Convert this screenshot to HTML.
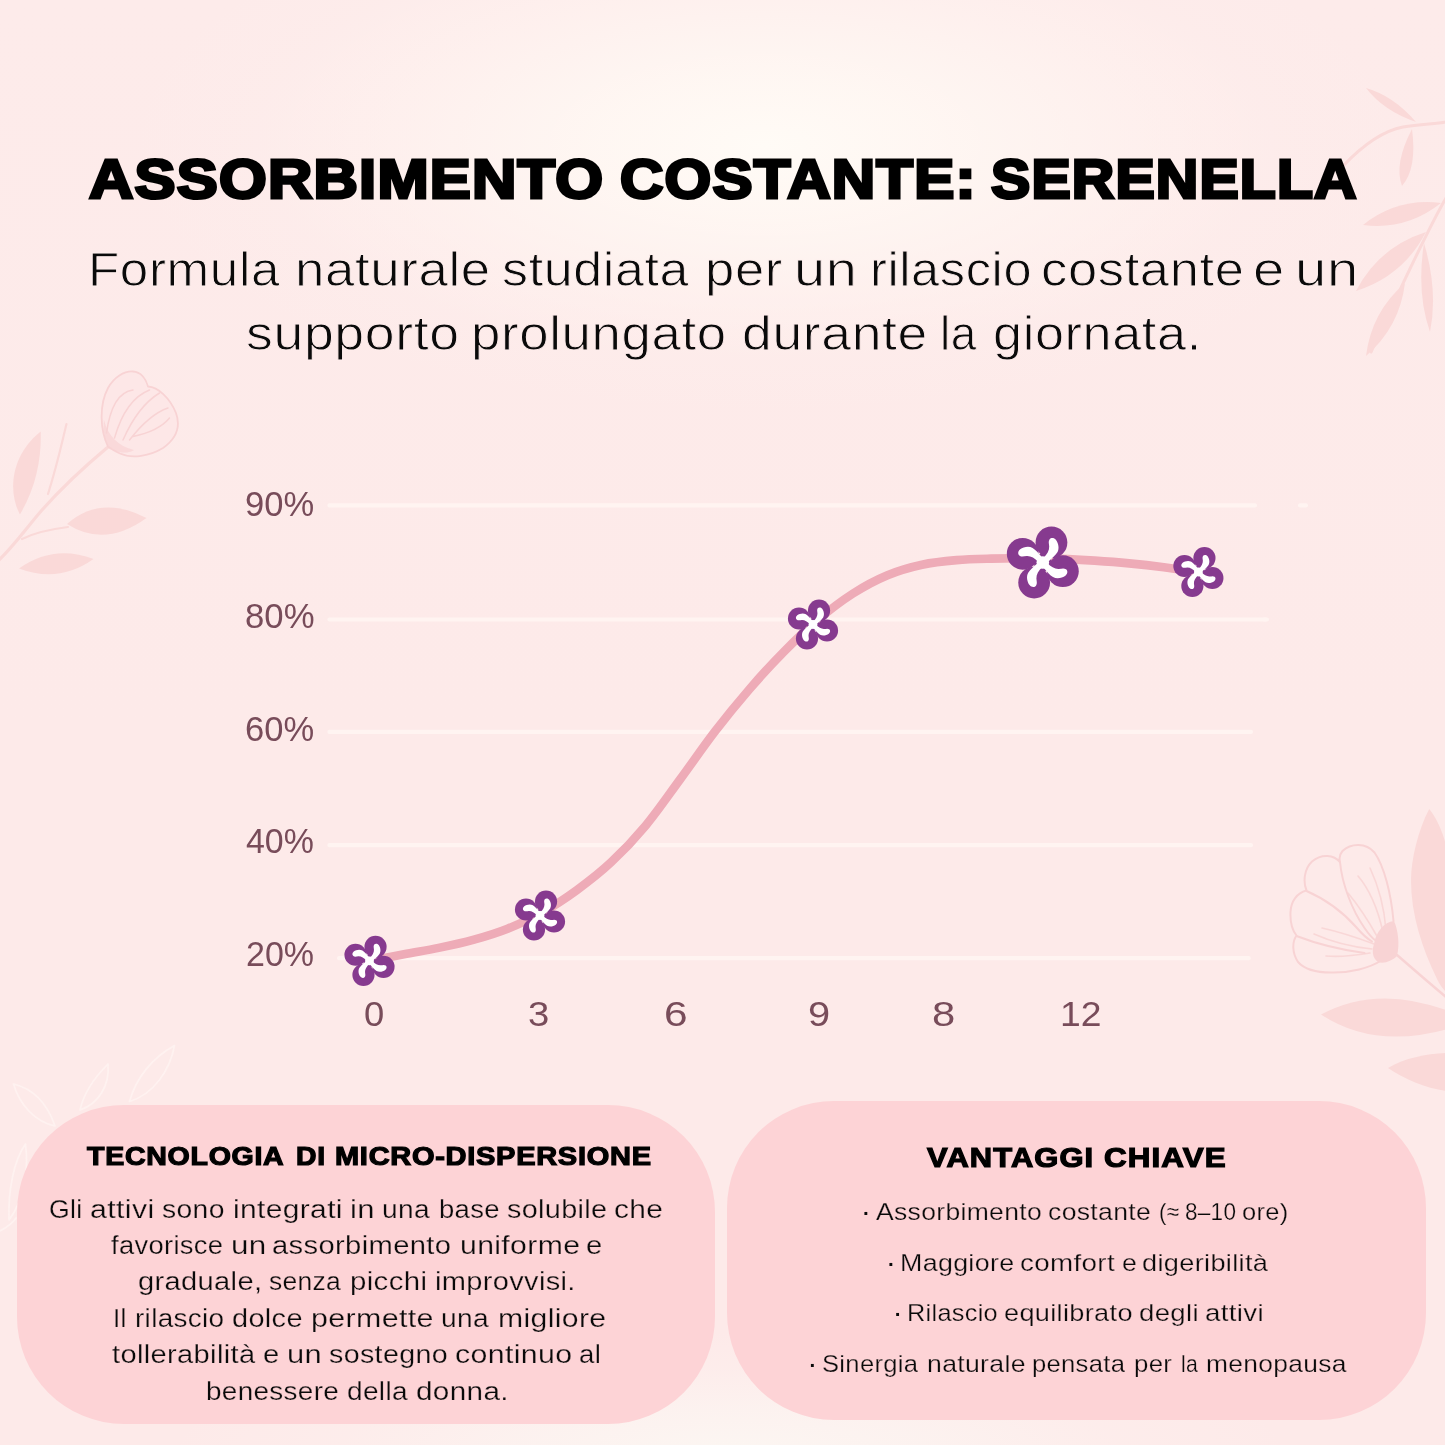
<!DOCTYPE html>
<html lang="it">
<head>
<meta charset="utf-8">
<title>Assorbimento costante: Serenella</title>
<style>
html,body{margin:0;padding:0;background:#fdeae9;}
body{width:1445px;height:1445px;position:relative;overflow:hidden;background:#fdeae9;font-family:"Liberation Sans",sans-serif;}
.bg{position:absolute;left:0;top:0;width:1445px;height:1445px;
 background:
  radial-gradient(ellipse 640px 270px at 765px 145px, rgba(255,251,246,1) 0%, rgba(255,249,244,0.85) 25%, rgba(255,246,242,0.5) 55%, rgba(255,240,238,0.18) 80%, rgba(254,234,234,0) 100%),
  radial-gradient(ellipse 560px 120px at 730px 1452px, rgba(252,246,242,1) 0%, rgba(252,244,241,0.8) 35%, rgba(253,240,238,0.4) 70%, rgba(254,234,234,0) 100%),
  linear-gradient(180deg,#fdebea 0%,#fdeae9 50%,#fdeae9 100%);}
svg.art{position:absolute;left:0;top:0;}
.card{position:absolute;background:#fdd3d6;border-radius:107px;}
.ln{height:0;}
.t{position:absolute;white-space:nowrap;line-height:0;height:0;transform-origin:0 0;}
</style>
</head>
<body>
<div class="bg"></div>
<svg class="art" width="1445" height="1445" viewBox="0 0 1445 1445">
<g style="filter:blur(.45px)">
<path d="M1343,166 C1362,146 1382,131 1403,127 C1420,124 1434,124 1446,122" fill="none" stroke="#fad9d8" stroke-width="3" stroke-linecap="round"/>
<path d="M1416.0,122.0 Q1393.6,95.9 1366.0,88.0 Q1383.4,110.7 1416.0,122.0Z" fill="#fad9d8"/>
<path d="M1412.0,129.0 Q1393.7,164.0 1402.0,186.0 Q1417.3,168.1 1412.0,129.0Z" fill="#fad9d8"/>
<path d="M1446,198 C1426,232 1400,290 1371,352" fill="none" stroke="#fad9d8" stroke-width="3" stroke-linecap="round"/>
<path d="M1441.0,203.0 Q1397.4,197.6 1363.0,225.0 Q1406.6,230.4 1441.0,203.0Z" fill="#fad9d8"/>
<path d="M1426.0,232.0 Q1378.8,247.0 1356.0,291.0 Q1403.2,276.0 1426.0,232.0Z" fill="#fad9d8"/>
<path d="M1424.0,243.0 Q1416.3,292.7 1430.0,332.0 Q1438.3,291.2 1424.0,243.0Z" fill="#fad9d8"/>
<path d="M1405.0,283.0 Q1371.4,312.0 1366.0,356.0 Q1399.6,327.0 1405.0,283.0Z" fill="#fad9d8"/>
</g>
<g style="filter:blur(.45px)">
<path d="M108,447 C90,462 66,483 42,510 C28,526 14,546 -2,561" fill="none" stroke="#fad9d8" stroke-width="3.2" stroke-linecap="round"/>
<path d="M66.5,424 C62,442 58,462 48,494" fill="none" stroke="#fad9d8" stroke-width="2.2" stroke-linecap="round"/>
<path d="M22,539 C36,532 52,529 68,527" fill="none" stroke="#fad9d8" stroke-width="2.2" stroke-linecap="round"/>
<path d="M19.9,514.5 C8,492 10,456 40.7,431.4 C41.5,456 37,486 19.9,514.5Z" fill="#fad9d8"/>
<path d="M67.0,524.0 Q104.8,548.2 146.5,518.0 Q100.7,494.4 67.0,524.0Z" fill="#fad9d8"/>
<path d="M19.0,568.5 Q58.8,583.6 93.5,559.0 Q53.7,543.9 19.0,568.5Z" fill="#fad9d8"/>
<path d="M108,446.5 C100,430 99,405 108,388 C114,377 124,371 133,371.5 C141,372 146,379 148,386.5 C158,387 170,398 176,413 C181,427 177,438 163,448 C150,456 132,459 120,453.5 C115,451 111,449 108,446.5Z" fill="#fde7e7" stroke="#f8d3d4" stroke-width="1.8" stroke-linejoin="round"/>
<path d="M106.5,433 C110,408 118,392 133,390 M114.5,438 C122,412 134,396 149.5,390 M123,440 C134,415 148,400 159.5,393 M129.5,440 C142,424 156,412 168,408 M133,436.5 C150,433 162,427 169.5,418" fill="none" stroke="#f8d3d4" stroke-width="1.5" stroke-linecap="round"/>
<path d="M108,446.5 C104,438 103,428 104,420 C108,436 118,446 134,450 C126,455 114,452 108,446.5Z" fill="#f8d3d4" opacity="0.7"/>
</g>
<g style="filter:blur(.45px)">
<path d="M1429.2,809 C1418,830 1411,860 1411,880 C1411,915 1422,948 1437,979 C1440,985 1443,989 1446,992 L1446,845 C1442,830 1436,817 1429.2,809Z" fill="#fad9d8"/>
<path d="M1321.0,1014.5 Q1382.8,1055.2 1472.0,1021.0 Q1386.1,979.3 1321.0,1014.5Z" fill="#fad9d8"/>
<path d="M1388,1068 C1405,1058 1425,1054 1446,1053 L1446,1091 C1425,1088 1404,1079 1388,1068Z" fill="#fad9d8"/>
<path d="M1397,955 C1412,968 1428,982 1446,997" fill="none" stroke="#f8d3d4" stroke-width="2.4" stroke-linecap="round"/>
<path d="M1393.5,921 C1391,893 1384,866 1374.5,852.5 C1366,842.5 1351,843 1342.5,851 C1339,855 1339.5,860 1340,862 C1334,855 1322,853 1312,861.5 C1304,869 1303,882 1306.5,890.5 C1297,893 1291,901 1290.5,912 C1290,922 1293,931 1296.5,935.5 C1292,942 1292,953 1298,962 C1305,970 1318,972.5 1331,972.5 C1350,973 1370,968 1382,960" fill="none" stroke="#f8d3d4" stroke-width="2" stroke-linejoin="round" stroke-linecap="round"/>
<path d="M1340,862 C1342,884 1352,910 1364.5,928 C1368,933 1372,938 1375,940 M1306.5,891 C1325,899 1343,912 1357,928 C1362,934 1368,939 1372,941.5 M1296.5,936 C1312,942 1335,949 1364.5,953" fill="none" stroke="#f8d3d4" stroke-width="2" stroke-linecap="round"/>
<path d="M1383,932 C1378,910 1370,890 1358,876 M1386,930 C1384,905 1378,885 1370,868 M1378,938 C1368,920 1358,905 1348,893 M1374,944 C1358,938 1340,932 1322,928 M1372,949 C1352,947 1332,942 1314,934 M1370,953 C1352,956 1336,957 1326,956" fill="none" stroke="#f8d3d4" stroke-width="1.6" stroke-linecap="round" opacity="0.85"/>
<path d="M1374,944 C1376,932 1384,922 1394,921 C1398,930 1400,944 1397,956 C1392,961 1384,964 1378,962 C1372,958 1372,950 1374,944Z" fill="#f8d3d4"/>
</g>
<g fill="none" stroke="#fff4f2" stroke-width="1.6" stroke-linecap="round" stroke-linejoin="round" opacity="0.85">
<path d="M13.5,1084 C30,1088 46,1100 55,1126 C36,1122 20,1106 13.5,1084Z"/>
<path d="M108,1064 C96,1076 84,1092 80,1110 C98,1104 110,1086 108,1064Z"/>
<path d="M174.5,1045.5 C152,1058 136,1078 129.5,1101.5 C154,1094 170,1070 174.5,1045.5Z"/>
<path d="M25.5,1144 C14,1160 8,1190 9,1220 C24,1200 29,1170 25.5,1144Z"/>
<path d="M-2,1232 C6,1228 12,1224 16,1218"/>
</g>
<rect x="327.4" y="503.2" width="929.6" height="4.2" rx="2" fill="#fff4f1"/><rect x="1298" y="503.2" width="10.0" height="4.2" rx="2" fill="#fff4f1"/><rect x="1262" y="617.4" width="7.0" height="4.2" rx="2" fill="#fff4f1"/><rect x="327.4" y="617.4" width="940.6" height="4.2" rx="2" fill="#fff4f1"/><rect x="327.4" y="729.7" width="925.6" height="4.2" rx="2" fill="#fff4f1"/><rect x="327.4" y="843.0" width="925.6" height="4.2" rx="2" fill="#fff4f1"/><rect x="337" y="956.1" width="913.7" height="4.2" rx="2" fill="#fff4f1"/>
<path d="M369.5,960.8 C375.2,959.7 392.5,956.4 404.0,954.3 C415.5,952.1 427.1,950.3 438.6,947.9 C450.1,945.5 461.6,943.1 473.1,939.9 C484.6,936.7 496.1,933.3 507.6,928.7 C519.1,924.1 530.7,918.9 542.2,912.5 C553.7,906.1 565.2,898.6 576.7,890.2 C588.2,881.8 599.7,873.0 611.2,862.2 C622.7,851.4 634.3,839.2 645.8,825.4 C657.3,811.5 668.8,794.7 680.3,779.1 C691.8,763.5 703.3,746.7 714.8,731.7 C726.3,716.7 737.9,702.5 749.4,689.2 C760.9,675.9 772.4,663.3 783.9,651.7 C795.4,640.1 806.9,629.1 818.4,619.4 C829.9,609.7 841.5,600.9 853.0,593.5 C864.5,586.1 876.0,580.0 887.5,575.2 C899.0,570.4 910.5,567.2 922.0,564.7 C933.5,562.2 945.1,561.1 956.6,560.1 C968.1,559.1 979.6,558.9 991.1,558.6 C1002.6,558.3 1014.1,558.2 1025.6,558.3 C1037.1,558.3 1048.7,558.5 1060.2,558.9 C1071.7,559.3 1083.2,559.9 1094.7,560.6 C1106.2,561.4 1117.7,562.3 1129.2,563.4 C1140.7,564.5 1152.3,565.8 1163.8,567.3 C1175.3,568.8 1192.5,571.6 1198.3,572.5" fill="none" stroke="#eeabb7" stroke-width="8.6" stroke-linecap="round" stroke-linejoin="round"/>
<g transform="translate(369.5,960.8) scale(0.6972)"><circle cx="8.65" cy="-20.07" r="15.9" fill="#863a8f"/><circle cx="20.07" cy="8.65" r="15.9" fill="#863a8f"/><circle cx="-8.65" cy="20.07" r="15.9" fill="#863a8f"/><circle cx="-20.07" cy="-8.65" r="15.9" fill="#863a8f"/><circle r="9" fill="#863a8f"/><circle r="6.3" fill="#fff"/><path d="M0.5,-4.5 C4.2,-8 6.6,-12 6.4,-16 C6.2,-19 5.3,-21 6.8,-23.2 C8,-25 11.2,-25.2 13.2,-22.6 C15.6,-19.5 16.8,-14 14.6,-10.2 C12.6,-7 9.5,-4.5 5,-0.5 Z" transform="rotate(0)" fill="#fff"/><path d="M0.5,-4.5 C4.2,-8 6.6,-12 6.4,-16 C6.2,-19 5.3,-21 6.8,-23.2 C8,-25 11.2,-25.2 13.2,-22.6 C15.6,-19.5 16.8,-14 14.6,-10.2 C12.6,-7 9.5,-4.5 5,-0.5 Z" transform="rotate(90)" fill="#fff"/><path d="M0.5,-4.5 C4.2,-8 6.6,-12 6.4,-16 C6.2,-19 5.3,-21 6.8,-23.2 C8,-25 11.2,-25.2 13.2,-22.6 C15.6,-19.5 16.8,-14 14.6,-10.2 C12.6,-7 9.5,-4.5 5,-0.5 Z" transform="rotate(180)" fill="#fff"/><path d="M0.5,-4.5 C4.2,-8 6.6,-12 6.4,-16 C6.2,-19 5.3,-21 6.8,-23.2 C8,-25 11.2,-25.2 13.2,-22.6 C15.6,-19.5 16.8,-14 14.6,-10.2 C12.6,-7 9.5,-4.5 5,-0.5 Z" transform="rotate(270)" fill="#fff"/></g><g transform="translate(540.0,915.5) scale(0.6972)"><circle cx="8.65" cy="-20.07" r="15.9" fill="#863a8f"/><circle cx="20.07" cy="8.65" r="15.9" fill="#863a8f"/><circle cx="-8.65" cy="20.07" r="15.9" fill="#863a8f"/><circle cx="-20.07" cy="-8.65" r="15.9" fill="#863a8f"/><circle r="9" fill="#863a8f"/><circle r="6.3" fill="#fff"/><path d="M0.5,-4.5 C4.2,-8 6.6,-12 6.4,-16 C6.2,-19 5.3,-21 6.8,-23.2 C8,-25 11.2,-25.2 13.2,-22.6 C15.6,-19.5 16.8,-14 14.6,-10.2 C12.6,-7 9.5,-4.5 5,-0.5 Z" transform="rotate(0)" fill="#fff"/><path d="M0.5,-4.5 C4.2,-8 6.6,-12 6.4,-16 C6.2,-19 5.3,-21 6.8,-23.2 C8,-25 11.2,-25.2 13.2,-22.6 C15.6,-19.5 16.8,-14 14.6,-10.2 C12.6,-7 9.5,-4.5 5,-0.5 Z" transform="rotate(90)" fill="#fff"/><path d="M0.5,-4.5 C4.2,-8 6.6,-12 6.4,-16 C6.2,-19 5.3,-21 6.8,-23.2 C8,-25 11.2,-25.2 13.2,-22.6 C15.6,-19.5 16.8,-14 14.6,-10.2 C12.6,-7 9.5,-4.5 5,-0.5 Z" transform="rotate(180)" fill="#fff"/><path d="M0.5,-4.5 C4.2,-8 6.6,-12 6.4,-16 C6.2,-19 5.3,-21 6.8,-23.2 C8,-25 11.2,-25.2 13.2,-22.6 C15.6,-19.5 16.8,-14 14.6,-10.2 C12.6,-7 9.5,-4.5 5,-0.5 Z" transform="rotate(270)" fill="#fff"/></g><g transform="translate(813.0,624.5) scale(0.6972)"><circle cx="8.65" cy="-20.07" r="15.9" fill="#863a8f"/><circle cx="20.07" cy="8.65" r="15.9" fill="#863a8f"/><circle cx="-8.65" cy="20.07" r="15.9" fill="#863a8f"/><circle cx="-20.07" cy="-8.65" r="15.9" fill="#863a8f"/><circle r="9" fill="#863a8f"/><circle r="6.3" fill="#fff"/><path d="M0.5,-4.5 C4.2,-8 6.6,-12 6.4,-16 C6.2,-19 5.3,-21 6.8,-23.2 C8,-25 11.2,-25.2 13.2,-22.6 C15.6,-19.5 16.8,-14 14.6,-10.2 C12.6,-7 9.5,-4.5 5,-0.5 Z" transform="rotate(0)" fill="#fff"/><path d="M0.5,-4.5 C4.2,-8 6.6,-12 6.4,-16 C6.2,-19 5.3,-21 6.8,-23.2 C8,-25 11.2,-25.2 13.2,-22.6 C15.6,-19.5 16.8,-14 14.6,-10.2 C12.6,-7 9.5,-4.5 5,-0.5 Z" transform="rotate(90)" fill="#fff"/><path d="M0.5,-4.5 C4.2,-8 6.6,-12 6.4,-16 C6.2,-19 5.3,-21 6.8,-23.2 C8,-25 11.2,-25.2 13.2,-22.6 C15.6,-19.5 16.8,-14 14.6,-10.2 C12.6,-7 9.5,-4.5 5,-0.5 Z" transform="rotate(180)" fill="#fff"/><path d="M0.5,-4.5 C4.2,-8 6.6,-12 6.4,-16 C6.2,-19 5.3,-21 6.8,-23.2 C8,-25 11.2,-25.2 13.2,-22.6 C15.6,-19.5 16.8,-14 14.6,-10.2 C12.6,-7 9.5,-4.5 5,-0.5 Z" transform="rotate(270)" fill="#fff"/></g><g transform="translate(1042.8,562.5) scale(1.0000)"><circle cx="8.65" cy="-20.07" r="15.9" fill="#863a8f"/><circle cx="20.07" cy="8.65" r="15.9" fill="#863a8f"/><circle cx="-8.65" cy="20.07" r="15.9" fill="#863a8f"/><circle cx="-20.07" cy="-8.65" r="15.9" fill="#863a8f"/><circle r="9" fill="#863a8f"/><circle r="6.3" fill="#fff"/><path d="M0.5,-4.5 C4.2,-8 6.6,-12 6.4,-16 C6.2,-19 5.3,-21 6.8,-23.2 C8,-25 11.2,-25.2 13.2,-22.6 C15.6,-19.5 16.8,-14 14.6,-10.2 C12.6,-7 9.5,-4.5 5,-0.5 Z" transform="rotate(0)" fill="#fff"/><path d="M0.5,-4.5 C4.2,-8 6.6,-12 6.4,-16 C6.2,-19 5.3,-21 6.8,-23.2 C8,-25 11.2,-25.2 13.2,-22.6 C15.6,-19.5 16.8,-14 14.6,-10.2 C12.6,-7 9.5,-4.5 5,-0.5 Z" transform="rotate(90)" fill="#fff"/><path d="M0.5,-4.5 C4.2,-8 6.6,-12 6.4,-16 C6.2,-19 5.3,-21 6.8,-23.2 C8,-25 11.2,-25.2 13.2,-22.6 C15.6,-19.5 16.8,-14 14.6,-10.2 C12.6,-7 9.5,-4.5 5,-0.5 Z" transform="rotate(180)" fill="#fff"/><path d="M0.5,-4.5 C4.2,-8 6.6,-12 6.4,-16 C6.2,-19 5.3,-21 6.8,-23.2 C8,-25 11.2,-25.2 13.2,-22.6 C15.6,-19.5 16.8,-14 14.6,-10.2 C12.6,-7 9.5,-4.5 5,-0.5 Z" transform="rotate(270)" fill="#fff"/></g><g transform="translate(1198.4,572.0) scale(0.6972)"><circle cx="8.65" cy="-20.07" r="15.9" fill="#863a8f"/><circle cx="20.07" cy="8.65" r="15.9" fill="#863a8f"/><circle cx="-8.65" cy="20.07" r="15.9" fill="#863a8f"/><circle cx="-20.07" cy="-8.65" r="15.9" fill="#863a8f"/><circle r="9" fill="#863a8f"/><circle r="6.3" fill="#fff"/><path d="M0.5,-4.5 C4.2,-8 6.6,-12 6.4,-16 C6.2,-19 5.3,-21 6.8,-23.2 C8,-25 11.2,-25.2 13.2,-22.6 C15.6,-19.5 16.8,-14 14.6,-10.2 C12.6,-7 9.5,-4.5 5,-0.5 Z" transform="rotate(0)" fill="#fff"/><path d="M0.5,-4.5 C4.2,-8 6.6,-12 6.4,-16 C6.2,-19 5.3,-21 6.8,-23.2 C8,-25 11.2,-25.2 13.2,-22.6 C15.6,-19.5 16.8,-14 14.6,-10.2 C12.6,-7 9.5,-4.5 5,-0.5 Z" transform="rotate(90)" fill="#fff"/><path d="M0.5,-4.5 C4.2,-8 6.6,-12 6.4,-16 C6.2,-19 5.3,-21 6.8,-23.2 C8,-25 11.2,-25.2 13.2,-22.6 C15.6,-19.5 16.8,-14 14.6,-10.2 C12.6,-7 9.5,-4.5 5,-0.5 Z" transform="rotate(180)" fill="#fff"/><path d="M0.5,-4.5 C4.2,-8 6.6,-12 6.4,-16 C6.2,-19 5.3,-21 6.8,-23.2 C8,-25 11.2,-25.2 13.2,-22.6 C15.6,-19.5 16.8,-14 14.6,-10.2 C12.6,-7 9.5,-4.5 5,-0.5 Z" transform="rotate(270)" fill="#fff"/></g>
</svg>
<div class="card" style="left:16.5px;top:1104.6px;width:698.2px;height:319.4px;"></div>
<div class="card" style="left:726.5px;top:1100.5px;width:699px;height:319.5px;"></div>
<div class="ln"><span class="t" style="left:88.56px;top:179.70px;font-size:54.6px;font-weight:700;color:#000;letter-spacing:0.02em;-webkit-text-stroke:3.0px #000;transform:scaleX(1.1248);">ASSORBIMENTO</span> <span class="t" style="left:619.95px;top:179.70px;font-size:54.6px;font-weight:700;color:#000;letter-spacing:0.02em;-webkit-text-stroke:3.0px #000;transform:scaleX(1.0999);">COSTANTE:</span> <span class="t" style="left:991.44px;top:179.70px;font-size:54.6px;font-weight:700;color:#000;letter-spacing:0.02em;-webkit-text-stroke:3.0px #000;transform:scaleX(1.0770);">SERENELLA</span></div>
<div class="ln"><span class="t" style="left:87.67px;top:269.95px;font-size:47.3px;color:#0a0a0a;letter-spacing:0.012em;-webkit-text-stroke:0.9px #feefed;transform:scaleX(1.0820);">Formula</span> <span class="t" style="left:294.75px;top:269.95px;font-size:47.3px;color:#0a0a0a;letter-spacing:0.012em;-webkit-text-stroke:0.9px #feefed;transform:scaleX(1.1162);">naturale</span> <span class="t" style="left:501.81px;top:269.95px;font-size:47.3px;color:#0a0a0a;letter-spacing:0.012em;-webkit-text-stroke:0.9px #feefed;transform:scaleX(1.0996);">studiata</span> <span class="t" style="left:704.66px;top:269.95px;font-size:47.3px;color:#0a0a0a;letter-spacing:0.012em;-webkit-text-stroke:0.9px #feefed;transform:scaleX(1.1119);">per</span> <span class="t" style="left:794.12px;top:269.95px;font-size:47.3px;color:#0a0a0a;letter-spacing:0.012em;-webkit-text-stroke:0.9px #feefed;transform:scaleX(1.1816);">un</span> <span class="t" style="left:869.71px;top:269.95px;font-size:47.3px;color:#0a0a0a;letter-spacing:0.012em;-webkit-text-stroke:0.9px #feefed;transform:scaleX(1.0689);">rilascio</span> <span class="t" style="left:1040.98px;top:269.95px;font-size:47.3px;color:#0a0a0a;letter-spacing:0.012em;-webkit-text-stroke:0.9px #feefed;transform:scaleX(1.1105);">costante</span> <span class="t" style="left:1253.38px;top:269.95px;font-size:47.3px;color:#0a0a0a;letter-spacing:0.012em;-webkit-text-stroke:0.9px #feefed;transform:scaleX(1.1900);">e</span> <span class="t" style="left:1295.10px;top:269.95px;font-size:47.3px;color:#0a0a0a;letter-spacing:0.012em;-webkit-text-stroke:0.9px #feefed;transform:scaleX(1.1879);">un</span></div>
<div class="ln"><span class="t" style="left:245.76px;top:333.95px;font-size:47.3px;color:#0a0a0a;letter-spacing:0.012em;-webkit-text-stroke:0.9px #feeceb;transform:scaleX(1.1335);">supporto</span> <span class="t" style="left:470.95px;top:333.95px;font-size:47.3px;color:#0a0a0a;letter-spacing:0.012em;-webkit-text-stroke:0.9px #feeceb;transform:scaleX(1.1162);">prolungato</span> <span class="t" style="left:742.36px;top:333.95px;font-size:47.3px;color:#0a0a0a;letter-spacing:0.012em;-webkit-text-stroke:0.9px #feeceb;transform:scaleX(1.1313);">durante</span> <span class="t" style="left:940.36px;top:333.95px;font-size:47.3px;color:#0a0a0a;letter-spacing:0.012em;-webkit-text-stroke:0.9px #feeceb;transform:scaleX(0.9685);">la</span> <span class="t" style="left:992.50px;top:333.95px;font-size:47.3px;color:#0a0a0a;letter-spacing:0.012em;-webkit-text-stroke:0.9px #feeceb;transform:scaleX(1.1037);">giornata.</span></div>
<div class="t" style="left:245.41px;top:503.50px;font-size:35px;color:#784c5a;transform:scaleX(0.9863);">90%</div>
<div class="t" style="left:245.01px;top:616.30px;font-size:35px;color:#784c5a;transform:scaleX(0.9922);">80%</div>
<div class="t" style="left:245.41px;top:729.00px;font-size:35px;color:#784c5a;transform:scaleX(0.9863);">60%</div>
<div class="t" style="left:246.20px;top:841.00px;font-size:35px;color:#784c5a;transform:scaleX(0.9691);">40%</div>
<div class="t" style="left:246.03px;top:953.70px;font-size:35px;color:#784c5a;transform:scaleX(0.9716);">20%</div>
<div class="t" style="left:364.26px;top:1014.00px;font-size:35px;color:#784c5a;transform:scaleX(1.0389);">0</div>
<div class="t" style="left:527.91px;top:1014.00px;font-size:35px;color:#784c5a;transform:scaleX(1.0941);">3</div>
<div class="t" style="left:664.49px;top:1014.00px;font-size:35px;color:#784c5a;transform:scaleX(1.2118);">6</div>
<div class="t" style="left:807.56px;top:1014.00px;font-size:35px;color:#784c5a;transform:scaleX(1.1353);">9</div>
<div class="t" style="left:931.81px;top:1014.00px;font-size:35px;color:#784c5a;transform:scaleX(1.1941);">8</div>
<div class="t" style="left:1059.77px;top:1014.00px;font-size:35px;color:#784c5a;transform:scaleX(1.0658);">12</div>
<div class="ln"><span class="t" style="left:87.06px;top:1156.40px;font-size:26.0px;font-weight:700;color:#000;letter-spacing:0.025em;-webkit-text-stroke:1.2px #000;transform:scaleX(1.0980);">TECNOLOGIA</span> <span class="t" style="left:295.86px;top:1156.40px;font-size:26.0px;font-weight:700;color:#000;letter-spacing:0.025em;-webkit-text-stroke:1.2px #000;transform:scaleX(1.0887);">DI</span> <span class="t" style="left:335.35px;top:1156.40px;font-size:26.0px;font-weight:700;color:#000;letter-spacing:0.025em;-webkit-text-stroke:1.2px #000;transform:scaleX(1.1148);">MICRO-DISPERSIONE</span></div>
<div class="ln"><span class="t" style="left:48.86px;top:1208.83px;font-size:26.2px;color:#0a0a0a;letter-spacing:0.012em;-webkit-text-stroke:0.25px #fdd3d6;transform:scaleX(1.0175);">Gli</span> <span class="t" style="left:89.80px;top:1208.83px;font-size:26.2px;color:#0a0a0a;letter-spacing:0.012em;-webkit-text-stroke:0.25px #fdd3d6;transform:scaleX(1.1584);">attivi</span> <span class="t" style="left:161.96px;top:1208.83px;font-size:26.2px;color:#0a0a0a;letter-spacing:0.012em;-webkit-text-stroke:0.25px #fdd3d6;transform:scaleX(1.0806);">sono</span> <span class="t" style="left:232.51px;top:1208.83px;font-size:26.2px;color:#0a0a0a;letter-spacing:0.012em;-webkit-text-stroke:0.25px #fdd3d6;transform:scaleX(1.1441);">integrati</span> <span class="t" style="left:349.97px;top:1208.83px;font-size:26.2px;color:#0a0a0a;letter-spacing:0.012em;-webkit-text-stroke:0.25px #fdd3d6;transform:scaleX(1.1855);">in</span> <span class="t" style="left:381.79px;top:1208.83px;font-size:26.2px;color:#0a0a0a;letter-spacing:0.012em;-webkit-text-stroke:0.25px #fdd3d6;transform:scaleX(1.0734);">una</span> <span class="t" style="left:438.92px;top:1208.83px;font-size:26.2px;color:#0a0a0a;letter-spacing:0.012em;-webkit-text-stroke:0.25px #fdd3d6;transform:scaleX(1.0480);">base</span> <span class="t" style="left:507.26px;top:1208.83px;font-size:26.2px;color:#0a0a0a;letter-spacing:0.012em;-webkit-text-stroke:0.25px #fdd3d6;transform:scaleX(1.0999);">solubile</span> <span class="t" style="left:614.02px;top:1208.83px;font-size:26.2px;color:#0a0a0a;letter-spacing:0.012em;-webkit-text-stroke:0.25px #fdd3d6;transform:scaleX(1.1404);">che</span></div>
<div class="ln"><span class="t" style="left:110.57px;top:1245.03px;font-size:26.2px;color:#0a0a0a;letter-spacing:0.012em;-webkit-text-stroke:0.25px #fdd3d6;transform:scaleX(1.0442);">favorisce</span> <span class="t" style="left:230.95px;top:1245.03px;font-size:26.2px;color:#0a0a0a;letter-spacing:0.012em;-webkit-text-stroke:0.25px #fdd3d6;transform:scaleX(1.1980);">un</span> <span class="t" style="left:272.15px;top:1245.03px;font-size:26.2px;color:#0a0a0a;letter-spacing:0.012em;-webkit-text-stroke:0.25px #fdd3d6;transform:scaleX(1.1143);">assorbimento</span> <span class="t" style="left:459.50px;top:1245.03px;font-size:26.2px;color:#0a0a0a;letter-spacing:0.012em;-webkit-text-stroke:0.25px #fdd3d6;transform:scaleX(1.1528);">uniforme</span> <span class="t" style="left:586.15px;top:1245.03px;font-size:26.2px;color:#0a0a0a;letter-spacing:0.012em;-webkit-text-stroke:0.25px #fdd3d6;transform:scaleX(1.1137);">e</span></div>
<div class="ln"><span class="t" style="left:138.35px;top:1281.22px;font-size:26.2px;color:#0a0a0a;letter-spacing:0.012em;-webkit-text-stroke:0.25px #fdd3d6;transform:scaleX(1.1101);">graduale,</span> <span class="t" style="left:268.57px;top:1281.22px;font-size:26.2px;color:#0a0a0a;letter-spacing:0.012em;-webkit-text-stroke:0.25px #fdd3d6;transform:scaleX(1.0095);">senza</span> <span class="t" style="left:350.04px;top:1281.22px;font-size:26.2px;color:#0a0a0a;letter-spacing:0.012em;-webkit-text-stroke:0.25px #fdd3d6;transform:scaleX(1.1225);">picchi</span> <span class="t" style="left:435.15px;top:1281.22px;font-size:26.2px;color:#0a0a0a;letter-spacing:0.012em;-webkit-text-stroke:0.25px #fdd3d6;transform:scaleX(1.1071);">improvvisi.</span></div>
<div class="ln"><span class="t" style="left:113.28px;top:1317.72px;font-size:26.2px;color:#0a0a0a;letter-spacing:0.012em;-webkit-text-stroke:0.25px #fdd3d6;transform:scaleX(0.9961);">Il</span> <span class="t" style="left:135.40px;top:1317.72px;font-size:26.2px;color:#0a0a0a;letter-spacing:0.012em;-webkit-text-stroke:0.25px #fdd3d6;transform:scaleX(1.0650);">rilascio</span> <span class="t" style="left:231.56px;top:1317.72px;font-size:26.2px;color:#0a0a0a;letter-spacing:0.012em;-webkit-text-stroke:0.25px #fdd3d6;transform:scaleX(1.1040);">dolce</span> <span class="t" style="left:310.50px;top:1317.72px;font-size:26.2px;color:#0a0a0a;letter-spacing:0.012em;-webkit-text-stroke:0.25px #fdd3d6;transform:scaleX(1.1597);">permette</span> <span class="t" style="left:440.99px;top:1317.72px;font-size:26.2px;color:#0a0a0a;letter-spacing:0.012em;-webkit-text-stroke:0.25px #fdd3d6;transform:scaleX(1.0734);">una</span> <span class="t" style="left:497.90px;top:1317.72px;font-size:26.2px;color:#0a0a0a;letter-spacing:0.012em;-webkit-text-stroke:0.25px #fdd3d6;transform:scaleX(1.1513);">migliore</span></div>
<div class="ln"><span class="t" style="left:111.56px;top:1354.12px;font-size:26.2px;color:#0a0a0a;letter-spacing:0.012em;-webkit-text-stroke:0.25px #fdd3d6;transform:scaleX(1.1096);">tollerabilità</span> <span class="t" style="left:263.15px;top:1354.12px;font-size:26.2px;color:#0a0a0a;letter-spacing:0.012em;-webkit-text-stroke:0.25px #fdd3d6;transform:scaleX(1.1137);">e</span> <span class="t" style="left:287.27px;top:1354.12px;font-size:26.2px;color:#0a0a0a;letter-spacing:0.012em;-webkit-text-stroke:0.25px #fdd3d6;transform:scaleX(1.1792);">un</span> <span class="t" style="left:329.06px;top:1354.12px;font-size:26.2px;color:#0a0a0a;letter-spacing:0.012em;-webkit-text-stroke:0.25px #fdd3d6;transform:scaleX(1.0941);">sostegno</span> <span class="t" style="left:454.80px;top:1354.12px;font-size:26.2px;color:#0a0a0a;letter-spacing:0.012em;-webkit-text-stroke:0.25px #fdd3d6;transform:scaleX(1.1570);">continuo</span> <span class="t" style="left:579.02px;top:1354.12px;font-size:26.2px;color:#0a0a0a;letter-spacing:0.012em;-webkit-text-stroke:0.25px #fdd3d6;transform:scaleX(1.0521);">al</span></div>
<div class="ln"><span class="t" style="left:205.90px;top:1390.62px;font-size:26.2px;color:#0a0a0a;letter-spacing:0.012em;-webkit-text-stroke:0.25px #fdd3d6;transform:scaleX(1.0635);">benessere</span> <span class="t" style="left:346.70px;top:1390.62px;font-size:26.2px;color:#0a0a0a;letter-spacing:0.012em;-webkit-text-stroke:0.25px #fdd3d6;transform:scaleX(1.0704);">della</span> <span class="t" style="left:415.82px;top:1390.62px;font-size:26.2px;color:#0a0a0a;letter-spacing:0.012em;-webkit-text-stroke:0.25px #fdd3d6;transform:scaleX(1.1338);">donna.</span></div>
<div class="ln"><span class="t" style="left:927.19px;top:1157.80px;font-size:27.0px;font-weight:700;color:#000;letter-spacing:0.035em;-webkit-text-stroke:1.2px #000;transform:scaleX(1.1450);">VANTAGGI</span> <span class="t" style="left:1103.84px;top:1157.80px;font-size:27.0px;font-weight:700;color:#000;letter-spacing:0.035em;-webkit-text-stroke:1.2px #000;transform:scaleX(1.1604);">CHIAVE</span></div>
<div class="ln"><span class="t" style="left:863.00px;top:1213.30px;font-size:20.5px;font-weight:700;color:#0a0a0a;letter-spacing:0.012em;transform:scaleX(1.0000);">·</span> <span class="t" style="left:876.36px;top:1212.42px;font-size:24.5px;color:#0a0a0a;letter-spacing:0.012em;-webkit-text-stroke:0.25px #fdd3d6;transform:scaleX(1.0825);">Assorbimento</span> <span class="t" style="left:1047.88px;top:1212.42px;font-size:24.5px;color:#0a0a0a;letter-spacing:0.012em;-webkit-text-stroke:0.25px #fdd3d6;transform:scaleX(1.0862);">costante</span> <span class="t" style="left:1158.58px;top:1212.42px;font-size:24.5px;color:#0a0a0a;letter-spacing:0.012em;-webkit-text-stroke:0.25px #fdd3d6;transform:scaleX(0.9058);">(≈</span> <span class="t" style="left:1184.67px;top:1212.42px;font-size:24.5px;color:#0a0a0a;letter-spacing:0.012em;-webkit-text-stroke:0.25px #fdd3d6;transform:scaleX(0.9195);">8–10</span> <span class="t" style="left:1242.13px;top:1212.42px;font-size:24.5px;color:#0a0a0a;letter-spacing:0.012em;-webkit-text-stroke:0.25px #fdd3d6;transform:scaleX(1.0394);">ore)</span></div>
<div class="ln"><span class="t" style="left:887.90px;top:1263.80px;font-size:20.5px;font-weight:700;color:#0a0a0a;letter-spacing:0.012em;transform:scaleX(1.0000);">·</span> <span class="t" style="left:899.77px;top:1262.92px;font-size:24.5px;color:#0a0a0a;letter-spacing:0.012em;-webkit-text-stroke:0.25px #fdd3d6;transform:scaleX(1.0945);">Maggiore</span> <span class="t" style="left:1020.42px;top:1262.92px;font-size:24.5px;color:#0a0a0a;letter-spacing:0.012em;-webkit-text-stroke:0.25px #fdd3d6;transform:scaleX(1.1336);">comfort</span> <span class="t" style="left:1121.77px;top:1262.92px;font-size:24.5px;color:#0a0a0a;letter-spacing:0.012em;-webkit-text-stroke:0.25px #fdd3d6;transform:scaleX(1.0894);">e</span> <span class="t" style="left:1142.45px;top:1262.92px;font-size:24.5px;color:#0a0a0a;letter-spacing:0.012em;-webkit-text-stroke:0.25px #fdd3d6;transform:scaleX(1.1086);">digeribilità</span></div>
<div class="ln"><span class="t" style="left:894.80px;top:1314.30px;font-size:20.5px;font-weight:700;color:#0a0a0a;letter-spacing:0.012em;transform:scaleX(1.0000);">·</span> <span class="t" style="left:907.41px;top:1313.42px;font-size:24.5px;color:#0a0a0a;letter-spacing:0.012em;-webkit-text-stroke:0.25px #fdd3d6;transform:scaleX(1.0323);">Rilascio</span> <span class="t" style="left:1003.55px;top:1313.42px;font-size:24.5px;color:#0a0a0a;letter-spacing:0.012em;-webkit-text-stroke:0.25px #fdd3d6;transform:scaleX(1.1077);">equilibrato</span> <span class="t" style="left:1138.73px;top:1313.42px;font-size:24.5px;color:#0a0a0a;letter-spacing:0.012em;-webkit-text-stroke:0.25px #fdd3d6;transform:scaleX(1.1245);">degli</span> <span class="t" style="left:1204.63px;top:1313.42px;font-size:24.5px;color:#0a0a0a;letter-spacing:0.012em;-webkit-text-stroke:0.25px #fdd3d6;transform:scaleX(1.1332);">attivi</span></div>
<div class="ln"><span class="t" style="left:809.50px;top:1364.80px;font-size:20.5px;font-weight:700;color:#0a0a0a;letter-spacing:0.012em;transform:scaleX(1.0000);">·</span> <span class="t" style="left:822.03px;top:1363.92px;font-size:24.5px;color:#0a0a0a;letter-spacing:0.012em;-webkit-text-stroke:0.25px #fdd3d6;transform:scaleX(1.0442);">Sinergia</span> <span class="t" style="left:926.58px;top:1363.92px;font-size:24.5px;color:#0a0a0a;letter-spacing:0.012em;-webkit-text-stroke:0.25px #fdd3d6;transform:scaleX(1.0866);">naturale</span> <span class="t" style="left:1032.22px;top:1363.92px;font-size:24.5px;color:#0a0a0a;letter-spacing:0.012em;-webkit-text-stroke:0.25px #fdd3d6;transform:scaleX(1.0446);">pensata</span> <span class="t" style="left:1134.02px;top:1363.92px;font-size:24.5px;color:#0a0a0a;letter-spacing:0.012em;-webkit-text-stroke:0.25px #fdd3d6;transform:scaleX(1.0523);">per</span> <span class="t" style="left:1180.63px;top:1363.92px;font-size:24.5px;color:#0a0a0a;letter-spacing:0.012em;-webkit-text-stroke:0.25px #fdd3d6;transform:scaleX(0.8655);">la</span> <span class="t" style="left:1206.09px;top:1363.92px;font-size:24.5px;color:#0a0a0a;letter-spacing:0.012em;-webkit-text-stroke:0.25px #fdd3d6;transform:scaleX(1.0763);">menopausa</span></div>
</body>
</html>
